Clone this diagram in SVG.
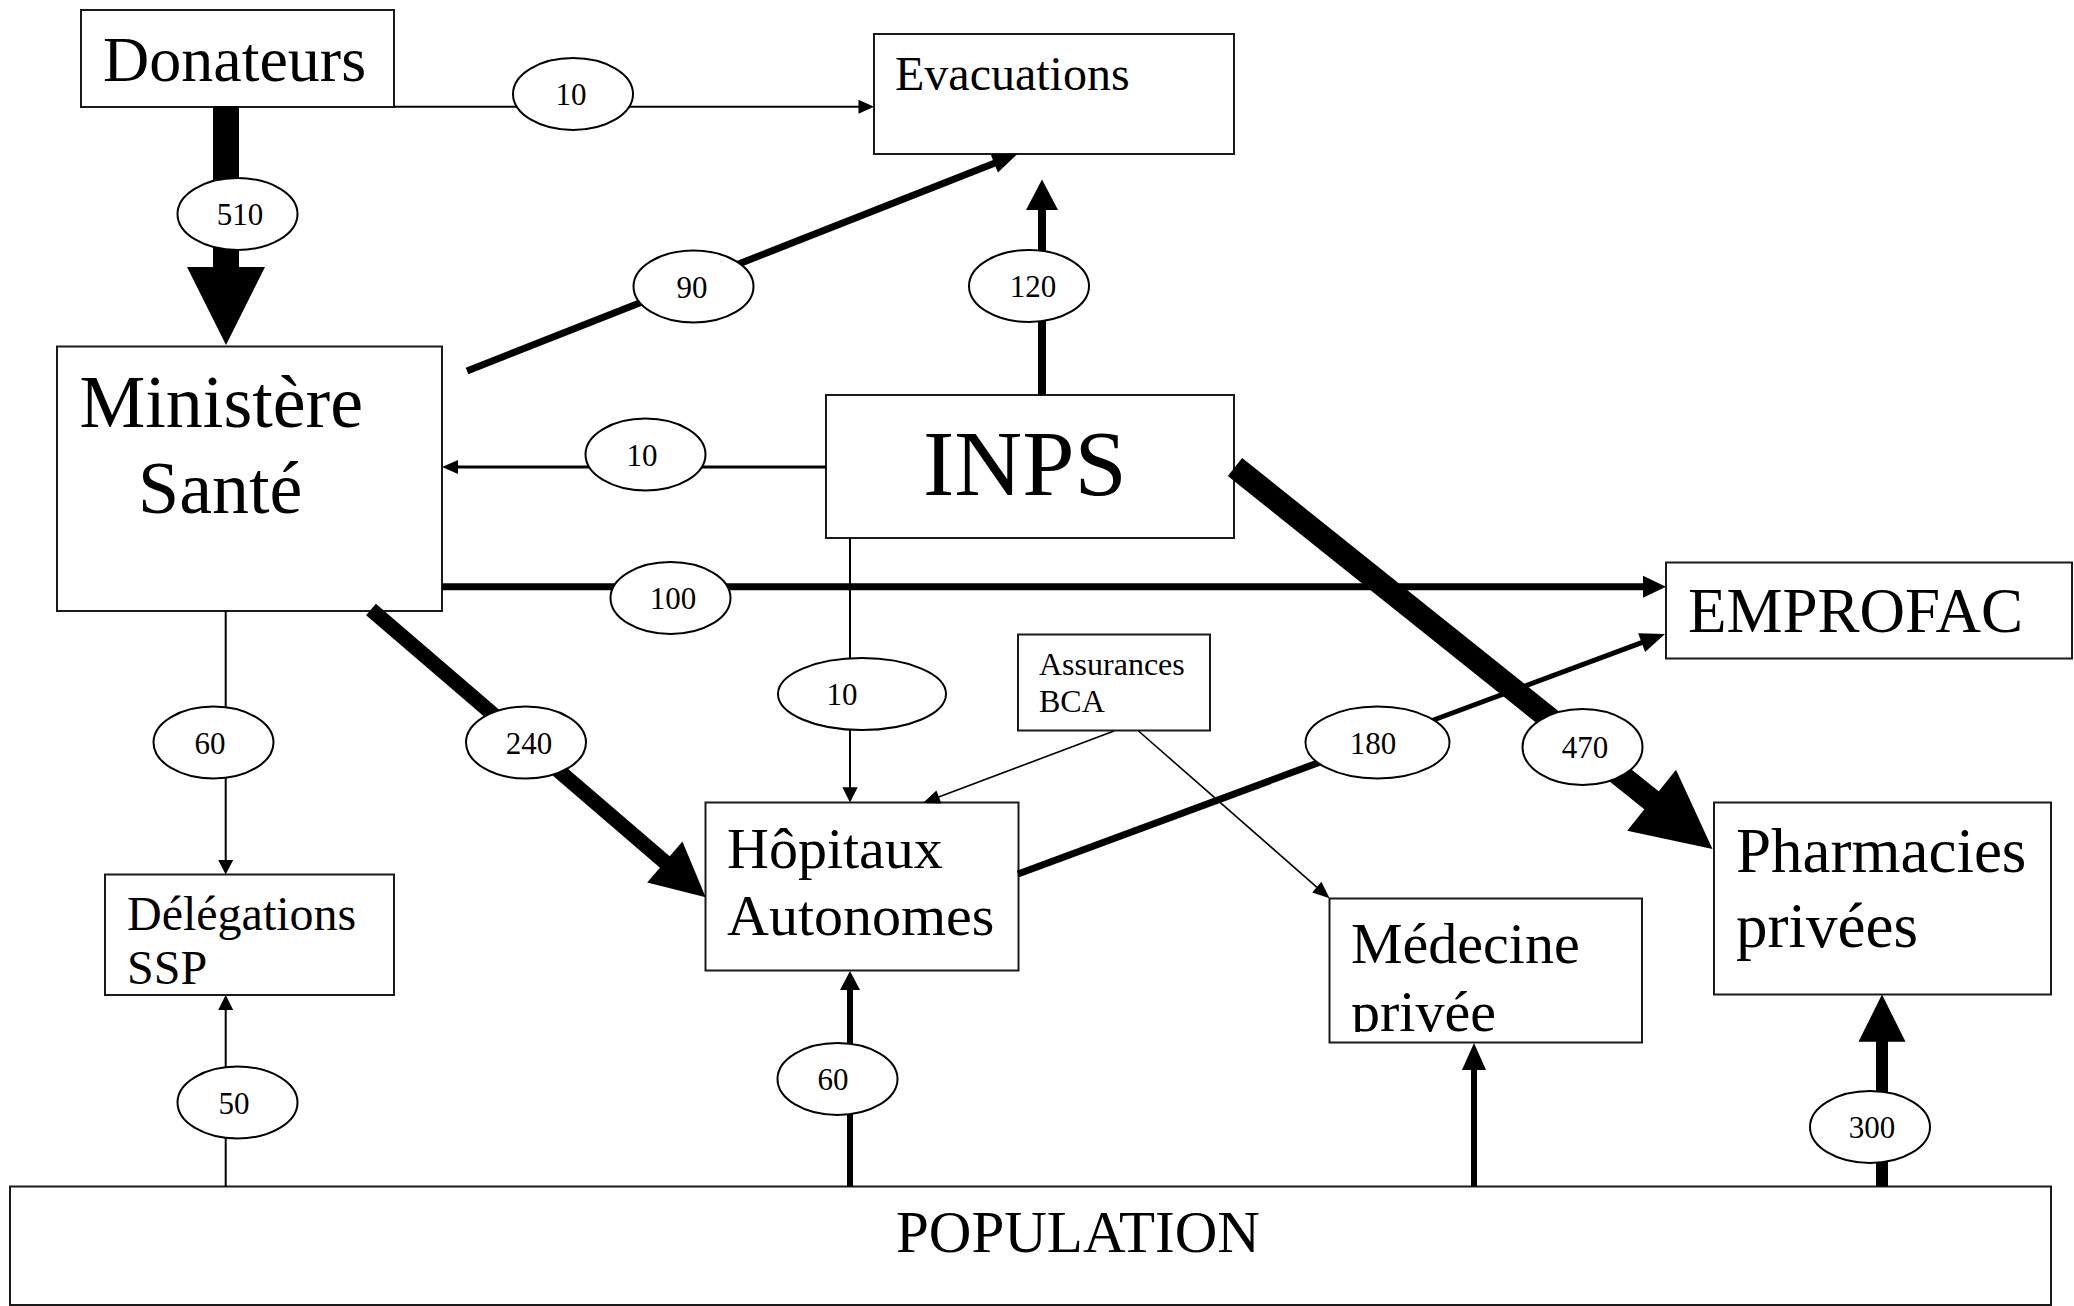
<svg xmlns="http://www.w3.org/2000/svg" width="2074" height="1306" viewBox="0 0 2074 1306">
<style>
  .box { fill: #fff; stroke: #1a1a1a; stroke-width: 2; }
  .t { font-family: "Liberation Serif", "Times New Roman", serif; fill: #000; }
  .lbl { fill: #fff; stroke: #000; stroke-width: 2; }
  .num { font-family: "Liberation Serif", "Times New Roman", serif; font-size: 31px; text-anchor: middle; fill: #000; }
  .ln { stroke: #000; fill: none; stroke-linecap: butt; }
  .head { fill: #000; stroke: none; }
</style>
<defs>
  <clipPath id="clipMed"><rect x="1330" y="899" width="311" height="133"/></clipPath>
</defs>
<rect width="2074" height="1306" fill="#fff"/>

<g id="node-donateurs">
  <rect class="box" x="81" y="10" width="313" height="97"/>
  <text class="t" x="103" y="81" font-size="64">Donateurs</text>
</g>
<g id="node-evacuations">
  <rect class="box" x="874" y="34" width="360" height="120"/>
  <text class="t" x="895" y="90" font-size="48">Evacuations</text>
</g>
<g id="node-ministere">
  <rect class="box" x="57" y="346.5" width="385" height="264.5"/>
  <text class="t" x="79.5" y="427" font-size="74">Ministère</text>
  <text class="t" x="138" y="513" font-size="74">Santé</text>
</g>
<g id="node-inps">
  <rect class="box" x="826" y="395" width="408" height="143"/>
  <text class="t" x="923" y="495" font-size="94">INPS</text>
</g>
<g id="node-emprofac">
  <rect class="box" x="1666" y="562.5" width="406" height="96"/>
  <text class="t" x="1688" y="632" font-size="63">EMPROFAC</text>
</g>
<g id="node-assurances">
  <rect class="box" x="1018" y="634.5" width="192" height="96"/>
  <text class="t" x="1039" y="675" font-size="32">Assurances</text>
  <text class="t" x="1039" y="711.5" font-size="32">BCA</text>
</g>
<g id="node-delegations">
  <rect class="box" x="105" y="874.5" width="289" height="120.5"/>
  <text class="t" x="127" y="930" font-size="48">Délégations</text>
  <text class="t" x="127" y="984" font-size="48">SSP</text>
</g>
<g id="node-hopitaux">
  <rect class="box" x="705.5" y="802.5" width="313" height="168"/>
  <text class="t" x="727" y="868" font-size="58">Hôpitaux</text>
  <text class="t" x="727" y="935" font-size="58">Autonomes</text>
</g>
<g id="node-medecine">
  <rect class="box" x="1329.5" y="898.5" width="312.5" height="144"/>
  <g clip-path="url(#clipMed)">
    <text class="t" x="1351" y="963" font-size="58">Médecine</text>
    <text class="t" x="1351" y="1031" font-size="58">privée</text>
  </g>
</g>
<g id="node-pharmacies">
  <rect class="box" x="1714" y="802.5" width="337" height="192"/>
  <text class="t" x="1736" y="871.5" font-size="63">Pharmacies</text>
  <text class="t" x="1736" y="946.5" font-size="63">privées</text>
</g>
<g id="node-population">
  <rect class="box" x="10" y="1186.5" width="2041" height="118.5"/>
  <text class="t" x="896" y="1251.5" font-size="59">POPULATION</text>
</g>

<g id="connectors">
  <!-- Donateurs -> Evacuations (10) -->
  <line class="ln" x1="394" y1="106.7" x2="859" y2="106.7" stroke-width="2"/>
  <polygon class="head" points="874,106.7 858.5,99.7 858.5,113.7"/>
  <!-- Donateurs -> Ministere (510) -->
  <rect class="head" x="213" y="106" width="26" height="162"/>
  <polygon class="head" points="187,267 265,267 226,345"/>
  <!-- Ministere -> Evacuations (90) -->
  <line class="ln" x1="467" y1="371" x2="995" y2="163" stroke-width="7"/>
  <polygon class="head" points="1017.4,154 997.9,172.5 990.5,153.9"/>
  <!-- INPS -> Evacuations (120) -->
  <line class="ln" x1="1042" y1="395" x2="1042" y2="209" stroke-width="8"/>
  <polygon class="head" points="1026,210 1058,210 1042,179.5"/>
  <!-- INPS -> Ministere (10) -->
  <line class="ln" x1="826" y1="467" x2="457" y2="467" stroke-width="3"/>
  <polygon class="head" points="442,467 458,460 458,474"/>
  <!-- Ministere -> EMPROFAC (100) -->
  <line class="ln" x1="442" y1="586.7" x2="1644" y2="586.7" stroke-width="7"/>
  <polygon class="head" points="1666,586.7 1643,575.7 1643,597.7"/>
  <!-- Ministere -> Delegations (60) -->
  <line class="ln" x1="225.7" y1="611" x2="225.7" y2="861" stroke-width="2"/>
  <polygon class="head" points="225.7,874.5 218.2,860 233.2,860"/>
  <!-- Ministere -> Hopitaux (240) -->
  <line class="ln" x1="371" y1="609.5" x2="666" y2="863" stroke-width="15"/>
  <polygon class="head" points="705.7,897.3 647.2,882.6 682.4,841.6"/>
  <!-- INPS -> Hopitaux (10) -->
  <line class="ln" x1="850" y1="538" x2="850" y2="788" stroke-width="2"/>
  <polygon class="head" points="850,802.5 842.3,787.3 857.7,787.3"/>
  <!-- Assurances -> Hopitaux -->
  <line class="ln" x1="1114" y1="731" x2="938" y2="797.3" stroke-width="1.6"/>
  <polygon class="head" points="923,803 941.4,803.6 936.4,790.4"/>
  <!-- Assurances -> Medecine -->
  <line class="ln" x1="1138.5" y1="731" x2="1317" y2="887.3" stroke-width="1.6"/>
  <polygon class="head" points="1329.6,898.3 1312.2,892.4 1321.4,881.8"/>
  <!-- Hopitaux -> EMPROFAC (180) -->
  <line class="ln" x1="1018" y1="874" x2="1377" y2="741" stroke-width="7"/>
  <line class="ln" x1="1377" y1="741" x2="1643" y2="642.2" stroke-width="5"/>
  <polygon class="head" points="1665,634 1645.1,652.1 1638.1,633.3"/>
  <!-- INPS -> Pharmacies (470) -->
  <line class="ln" x1="1235" y1="467" x2="1653" y2="801.4" stroke-width="23"/>
  <polygon class="head" points="1712.5,849 1627.2,830.8 1676,769.8"/>
  <!-- Population -> Delegations (50) -->
  <line class="ln" x1="225.7" y1="1186.5" x2="225.7" y2="1009" stroke-width="2"/>
  <polygon class="head" points="225.7,995 218.2,1010 233.2,1010"/>
  <!-- Population -> Hopitaux (60) -->
  <line class="ln" x1="850" y1="1186.5" x2="850" y2="989" stroke-width="6"/>
  <polygon class="head" points="850,971 840,990 860,990"/>
  <!-- Population -> Medecine -->
  <line class="ln" x1="1474" y1="1186.5" x2="1474" y2="1069" stroke-width="6"/>
  <polygon class="head" points="1474,1043 1462,1070 1486,1070"/>
  <!-- Population -> Pharmacies (300) -->
  <line class="ln" x1="1882" y1="1186.5" x2="1882" y2="1040" stroke-width="12"/>
  <polygon class="head" points="1882,994.5 1858.5,1041.7 1905.5,1041.7"/>

  <!-- flow labels -->
  <g id="labels">
    <ellipse class="lbl" cx="573" cy="94" rx="60" ry="36"/>
    <text class="num" x="571" y="105">10</text>
    <ellipse class="lbl" cx="237.5" cy="214" rx="60" ry="36"/>
    <text class="num" x="240" y="225">510</text>
    <ellipse class="lbl" cx="693.5" cy="286.5" rx="60" ry="36"/>
    <text class="num" x="692" y="297.5">90</text>
    <ellipse class="lbl" cx="1029" cy="286" rx="60" ry="36"/>
    <text class="num" x="1033" y="297">120</text>
    <ellipse class="lbl" cx="645.5" cy="454.5" rx="60" ry="36"/>
    <text class="num" x="642" y="465.5">10</text>
    <ellipse class="lbl" cx="670.5" cy="598" rx="60" ry="36"/>
    <text class="num" x="673" y="609">100</text>
    <ellipse class="lbl" cx="213.5" cy="742.5" rx="60" ry="36"/>
    <text class="num" x="210" y="753.5">60</text>
    <ellipse class="lbl" cx="526" cy="742.5" rx="60" ry="36"/>
    <text class="num" x="529" y="753.5">240</text>
    <ellipse class="lbl" cx="862" cy="694" rx="84" ry="36"/>
    <text class="num" x="842" y="705">10</text>
    <ellipse class="lbl" cx="1377.5" cy="742.5" rx="72" ry="36"/>
    <text class="num" x="1373" y="753.5">180</text>
    <ellipse class="lbl" cx="1582.5" cy="747" rx="60" ry="38"/>
    <text class="num" x="1585" y="758">470</text>
    <ellipse class="lbl" cx="237.5" cy="1102.5" rx="60" ry="36"/>
    <text class="num" x="234" y="1113.5">50</text>
    <ellipse class="lbl" cx="837.5" cy="1079" rx="60" ry="36"/>
    <text class="num" x="833" y="1090">60</text>
    <ellipse class="lbl" cx="1870" cy="1127" rx="60" ry="36"/>
    <text class="num" x="1872" y="1138">300</text>
  </g>
</g>
</svg>
